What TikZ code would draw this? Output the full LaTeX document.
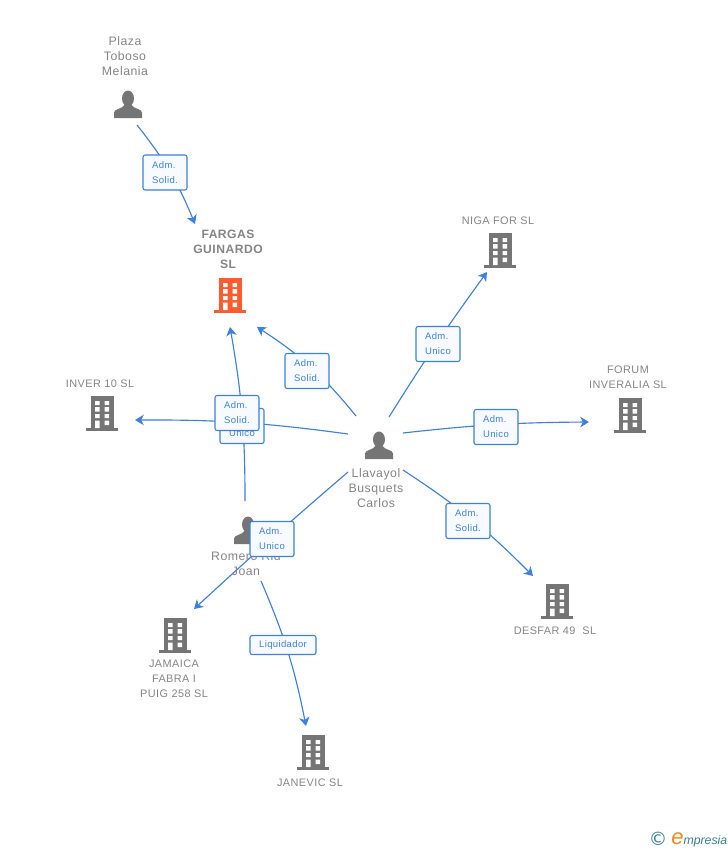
\documentclass[tikz,border=0pt]{standalone}
\usepackage{fontspec}
\usepackage{xcolor}
\setmainfont{Liberation Sans}
\newfontfamily\spacedfont[LetterSpace=4]{Liberation Sans}
\newfontfamily\symbolfont{DejaVu Sans}
\usetikzlibrary{arrows.meta}
\definecolor{linkblue}{HTML}{3D80E0}
\definecolor{badgefill}{HTML}{F7FAFE}
\definecolor{icongray}{HTML}{757575}
\definecolor{labelgray}{HTML}{858585}
\definecolor{mainorange}{HTML}{FF5C2E}
\definecolor{logoteal}{HTML}{3A7F96}
\definecolor{logoorange}{HTML}{F08A1D}
\tikzset{
    x=0.02cm, y=-0.02cm,
    entity/.style={inner sep=0pt, minimum size=0pt},
    link/.style={draw=linkblue, line width=0.65pt, -{Stealth[length=5pt,width=6pt,inset=1.5pt]}},
    badge/.style={draw=linkblue, line width=0.6pt, fill=badgefill, rounded corners=1.2pt, text=linkblue,
        font=\spacedfont\fontsize{5.4}{8.5}\selectfont, align=left, minimum width=0.88cm, minimum height=0.7cm, inner sep=0pt},
    person/.style={text=labelgray, font=\spacedfont\fontsize{7}{8.5}\selectfont, align=center},
    company/.style={text=labelgray, font=\spacedfont\fontsize{6.2}{8.5}\selectfont, align=center},
    pics/building/.style={code={
        \fill[#1] (-11,-17) rectangle (12,15);
        \fill[#1] (-16,15) rectangle (16,17.5);
        \fill[white] (-7,-12) rectangle (-2.5,-8) (2.5,-12) rectangle (7,-8);
        \fill[white] (-7,-6) rectangle (-2.5,-1.5) (2.5,-6) rectangle (7,-1.5);
        \fill[white] (-7,1) rectangle (-2.5,5) (2.5,1) rectangle (7,5);
        \fill[white] (-7,7.5) rectangle (-2.5,15) (2.5,7.5) rectangle (7,12);
    }},
    pics/human/.style={code={
        \fill[icongray] (0,-5.5) ellipse [x radius=6, y radius=8];
        \fill[icongray] (-14,14) -- (-14,8.5) .. controls (-14,5) and (-6,5) .. (-3.5,1)
            -- (3.5,1) .. controls (6,5) and (14,5) .. (14,8.5) -- (14,14) -- cycle;
    }}
}
\begin{document}
\begin{tikzpicture}
    \useasboundingbox (0,0) rectangle (728,850);
    % Anchors of the icons
    \node[entity] (plaza) at (128,104) {};
    \node[entity] (fargas) at (230,295) {};
    \node[entity] (llavayol) at (379,445) {};
    \node[entity] (romero) at (248,530) {};
    \node[entity] (niga) at (500,250) {};
    \node[entity] (forum) at (630,415) {};
    \node[entity] (inver) at (102,413) {};
    \node[entity] (desfar) at (557,601) {};
    \node[entity] (jamaica) at (175,635) {};
    \node[entity] (janevic) at (313,752) {};
    % Links
    \draw[link] ([shift={(9,21)}]plaza.center) to[bend left=8] ([shift={(-35,-71)}]fargas.center);
    \draw[link] ([shift={(-23,-29)}]llavayol.center) to[bend right=9] ([shift={(27,32)}]fargas.center);
    \draw[link] ([shift={(-3,-29)}]romero.center) to[bend right=5] ([shift={(0,32)}]fargas.center);
    \draw[link] ([shift={(-31,-11)}]llavayol.center) to[bend right=4] ([shift={(33,7)}]inver.center);
    \draw[link] ([shift={(10,-28)}]llavayol.center) to[bend left=2] ([shift={(-13,22)}]niga.center);
    \draw[link] ([shift={(24,-12)}]llavayol.center) to[bend left=3] ([shift={(-41,7)}]forum.center);
    \draw[link] ([shift={(24,25)}]llavayol.center) to[bend left=6] ([shift={(-24,-25)}]desfar.center);
    \draw[link] ([shift={(-31,27)}]llavayol.center) to[bend right=1] ([shift={(19,-26)}]jamaica.center);
    \draw[link] ([shift={(13,51)}]romero.center) to[bend left=6] ([shift={(-7,-26)}]janevic.center);
    % Icons
    \pic at (plaza) {human};
    \pic at (llavayol) {human};
    \pic at (romero) {human};
    \pic at (fargas) {building=mainorange};
    \pic at (niga) {building=icongray};
    \pic at (forum) {building=icongray};
    \pic at (inver) {building=icongray};
    \pic at (desfar) {building=icongray};
    \pic at (jamaica) {building=icongray};
    \pic at (janevic) {building=icongray};
    % Labels
    \node[person] (plazatext) at (125,56) {Plaza\\Toboso\\Melania};
    \node[company, font=\spacedfont\fontsize{6.9}{8.5}\selectfont\bfseries] (fargastext) at (228,249) {FARGAS\\GUINARDO\\SL};
    \node[company] (nigatext) at (498,220.5) {NIGA FOR SL};
    \node[company] (forumtext) at (628,377) {FORUM\\INVERALIA SL};
    \node[company] (invertext) at (100,383.5) {INVER 10 SL};
    \node[person] (llavayoltext) at (376,488) {Llavayol\\Busquets\\Carlos};
    \node[person] (romerotext) at (246,564) {Romero Rid\\Joan};
    \node[company] (desfartext) at (555,630.5) {DESFAR 49\ \ SL};
    \node[company] (jamaicatext) at (174,679) {JAMAICA\\FABRA I\\PUIG 258 SL};
    \node[company] (janevictext) at (310,782.5) {JANEVIC SL};
    % Badges
    \node[badge] (badgeplaza) at (165,172.5) {Adm.\\Solid.};
    \node[badge] (badgefargas) at (307,371) {Adm.\\Solid.};
    \node[badge] (badgeinver) at (242,426) {Adm.\\Unico};
    \node[badge] (badgeromero) at (237,413) {Adm.\\Solid.};
    \node[badge] (badgeniga) at (438,344) {Adm.\\Unico};
    \node[badge] (badgeforum) at (496,427) {Adm.\\Unico};
    \node[badge] (badgedesfar) at (468,521) {Adm.\\Solid.};
    \node[badge] (badgejamaica) at (272,539) {Adm.\\Unico};
    \node[badge, minimum width=1.32cm, minimum height=0.38cm] (badgejanevic) at (283,645) {Liquidador};
    % Logo
    \node[text=logoteal, font=\symbolfont\fontsize{10.5}{10}\selectfont, inner sep=0pt] (logomark) at (658,839) {©};
    \node[anchor=base west, inner sep=0pt, text=logoteal, font=\fontsize{7}{8}\selectfont\itshape] (logotext) at (671,844)
        {\textcolor{logoorange}{\fontsize{12.5}{8}\selectfont e}mpresia};
\end{tikzpicture}
\end{document}
